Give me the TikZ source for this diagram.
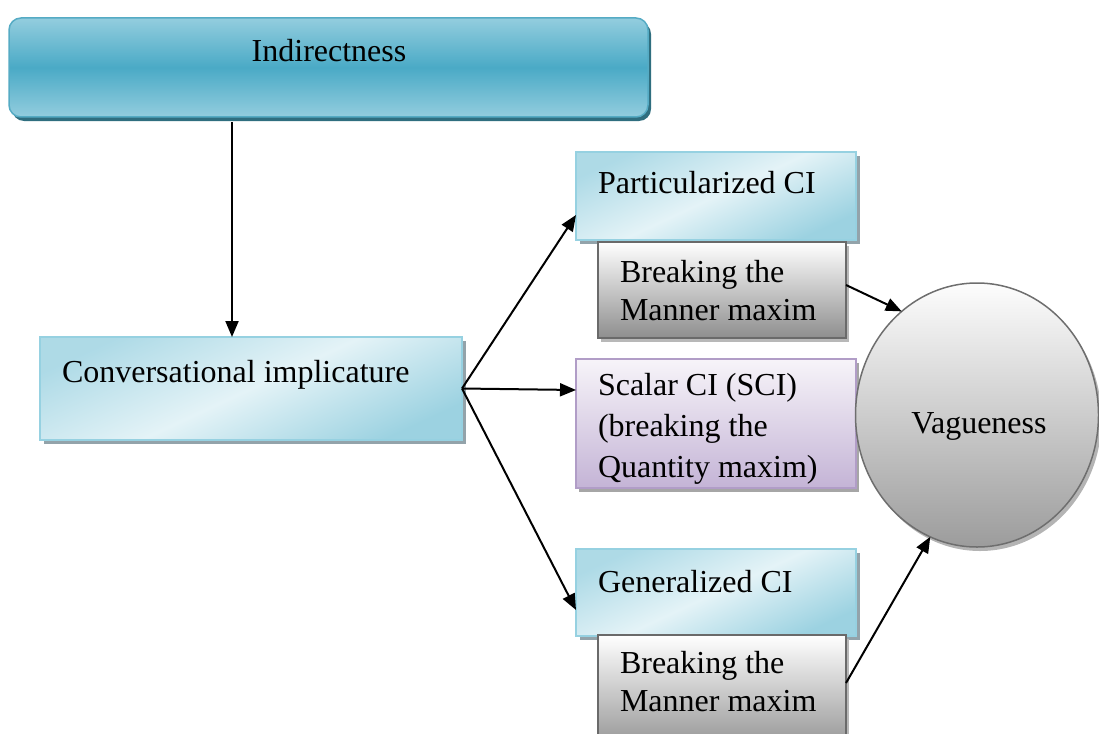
\documentclass[tikz,border=0pt]{standalone}
\usepackage{fontspec}
\setmainfont{Liberation Serif}
\usetikzlibrary{arrows.meta,shapes.geometric,shadows}

\definecolor{indLight}{HTML}{93CDDE}
\definecolor{indDark}{HTML}{4AAAC6}
\definecolor{indBorder}{HTML}{55ABC4}
\definecolor{indShadow}{HTML}{2F6E7F}
\definecolor{cyEdge}{HTML}{9CD2E1}
\definecolor{cyMid}{HTML}{E4F3F7}
\definecolor{cyBorder}{HTML}{96D1E1}
\definecolor{cyShadow}{HTML}{93A3AA}
\definecolor{gyTop}{HTML}{FFFFFF}
\definecolor{gyBottom}{HTML}{8E8E8E}
\definecolor{gyBorder}{HTML}{6A6A6A}
\definecolor{gyShadow}{HTML}{B8B8B8}
\definecolor{puTop}{HTML}{F7F4F9}
\definecolor{puBottom}{HTML}{C4B4D6}
\definecolor{puBorder}{HTML}{B19DC7}
\definecolor{puShadow}{HTML}{A6A6A6}
\definecolor{vgTop}{HTML}{FDFDFD}
\definecolor{vgBottom}{HTML}{9C9C9C}
\definecolor{vgBorder}{HTML}{6E6E6E}
\definecolor{vgShadow}{HTML}{B4B4B4}

% left-aligned lines whose first baseline is the node's base
\newcommand{\boxlines}[1]{\begin{tabular}[t]{@{}l@{}}#1\end{tabular}}

\begin{document}
\begin{tikzpicture}[x=1pt,y=-1pt,
  font=\fontsize{32}{38}\selectfont,
  every node/.style={inner sep=0pt,outer sep=0pt},
  txt/.style={anchor=base west},
  headbox/.style={rectangle,rounded corners=12pt,anchor=north west,
    draw=indBorder,line width=1.5pt,
    top color=indLight,bottom color=indLight,middle color=indDark,
    general shadow={fill=indShadow,shadow xshift=3pt,shadow yshift=-4pt}},
  cybox/.style={rectangle,anchor=north west,draw=cyBorder,line width=1.5pt,
    top color=cyEdge!75!cyMid,bottom color=cyEdge,middle color=cyMid,
    shading angle=25,
    general shadow={fill=cyShadow,shadow xshift=4pt,shadow yshift=-4pt}},
  gybox/.style={rectangle,anchor=north west,draw=gyBorder,line width=1.5pt,
    top color=gyTop,bottom color=gyBottom,
    general shadow={fill=gyShadow,shadow xshift=3pt,shadow yshift=-4pt}},
  pubox/.style={rectangle,anchor=north west,draw=puBorder,line width=1.5pt,
    top color=puTop,bottom color=puBottom,
    general shadow={fill=puShadow,shadow xshift=3pt,shadow yshift=-4pt}},
  vgbox/.style={ellipse,draw=vgBorder,line width=1.5pt,
    top color=vgTop,bottom color=vgBottom,
    general shadow={fill=vgShadow,shadow xshift=3pt,shadow yshift=-4pt}},
  arr/.style={line width=2pt,-{Triangle[length=16pt,width=13pt]}}
]
\clip (0,0) rectangle (1099,733);

% top heading
\node[headbox,minimum width=639pt,minimum height=99pt] (ind) at (9,18) {};
\node[anchor=base] (indt) at (329,62) {Indirectness};

% conversational implicature
\node[cybox,minimum width=422pt,minimum height=103pt] (ci) at (40,337) {};
\node[txt] (cit) at (62,382) {Conversational implicature};

% particularized CI and its maxim box
\node[cybox,minimum width=280pt,minimum height=88pt] (pci) at (576,152) {};
\node[txt] (pcit) at (598,193) {Particularized CI};
\node[gybox,minimum width=248pt,minimum height=96pt] (bm1) at (598,242) {};
\node[txt] (bm1t) at (620,282) {\boxlines{Breaking the\\Manner maxim}};

% scalar CI
\node[pubox,minimum width=280pt,minimum height=129pt] (sci) at (576,359) {};
\node[txt,font=\fontsize{32}{41}\selectfont] (scit) at (598,395)
  {\boxlines{Scalar CI (SCI)\\(breaking the\\Quantity maxim)}};

% generalized CI and its maxim box
\node[cybox,minimum width=280pt,minimum height=87pt] (gci) at (576,549) {};
\node[txt] (gcit) at (598,592) {Generalized CI};
\node[gybox,minimum width=248pt,minimum height=120pt] (bm2) at (598,635) {};
\node[txt] (bm2t) at (620,673) {\boxlines{Breaking the\\Manner maxim}};

% vagueness
\node[vgbox,minimum width=243pt,minimum height=264pt] (vag) at (977,415) {};
\node[anchor=base] (vagt) at (979,433) {Vagueness};

% connector end points
\coordinate (pciIn) at (576,215);
\coordinate (sciIn) at (576,390);
\coordinate (gciIn) at (576,610);
\coordinate (bm1Out) at (846,285);
\coordinate (bm2Out) at (846,683);

\draw[arr] (232,122) -- (ci.north -| 232,0);
\draw[arr] (ci.east) -- (pciIn);
\draw[arr] (ci.east) -- (sciIn);
\draw[arr] (ci.east) -- (gciIn);
\draw[arr] (bm1Out) -- (vag.126);
\draw[arr] (bm2Out) -- (vag.249);
\end{tikzpicture}
\end{document}
